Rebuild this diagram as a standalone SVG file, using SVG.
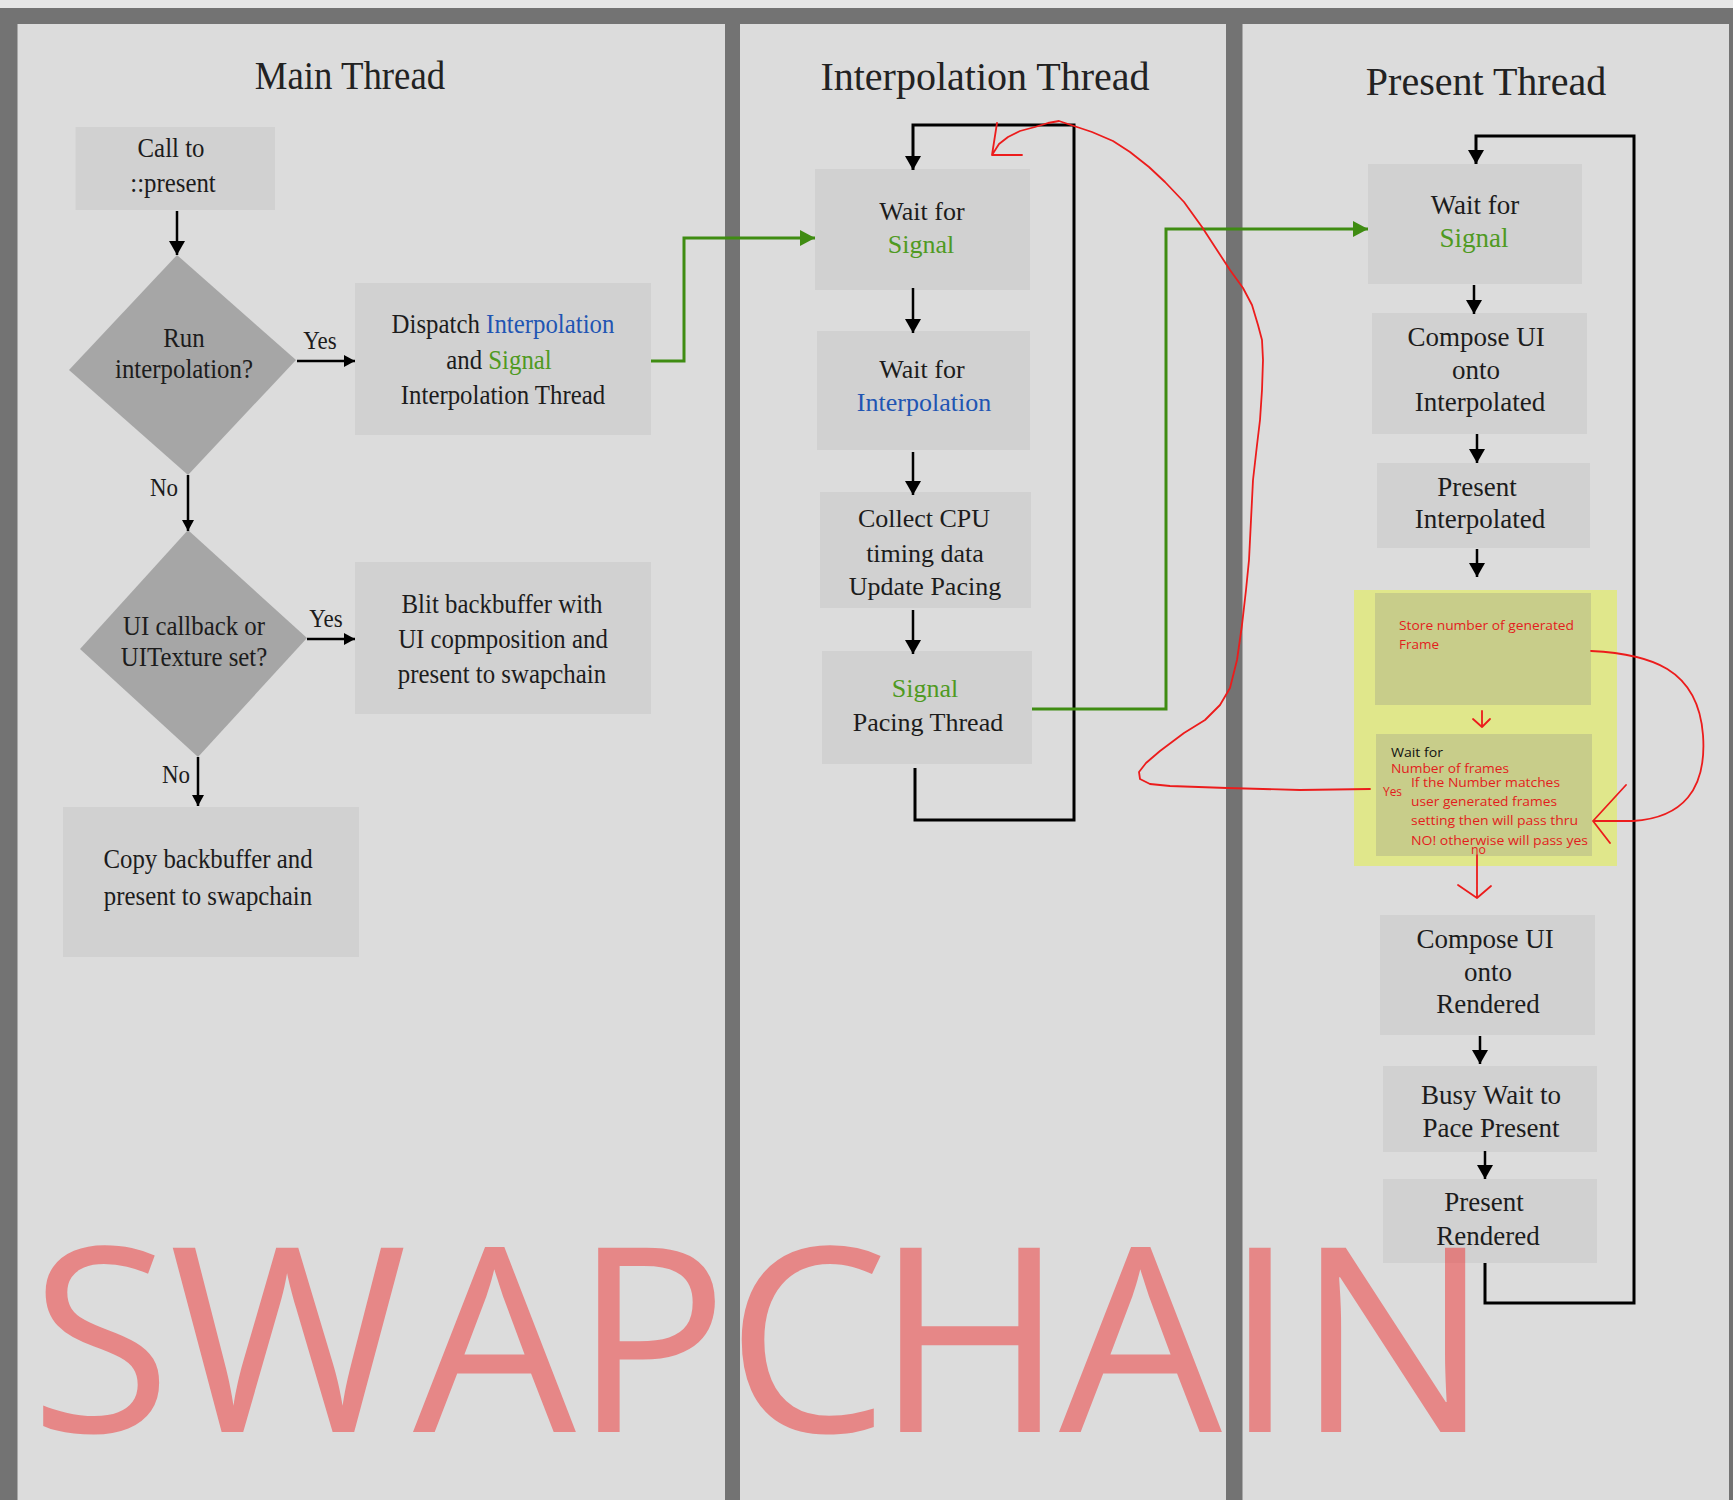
<svg xmlns="http://www.w3.org/2000/svg" width="1733" height="1500" viewBox="0 0 1733 1500">
<style>
.panel{fill:#dcdcdc}
.box{fill:#d1d1d1}
.dia{fill:#a6a6a6}
.t{font-family:"Liberation Serif","Times New Roman",serif;fill:#1c1c1c;text-anchor:middle}
.m{font-size:27px}
.lb{font-size:25px}
.i{font-size:26px}
.p{font-size:27px}
.title{font-size:40px;fill:#222}
.g{fill:#4f9a22}
.b{fill:#1f55b3}
.conn{fill:none;stroke:#000;stroke-width:2.5}
.loop{fill:none;stroke:#000;stroke-width:3}
.green{fill:none;stroke:#3f8c12;stroke-width:3}
.red{fill:none;stroke:#ec1c1c;stroke-width:1.8;stroke-linejoin:round;stroke-linecap:round}
.note{font-family:"Open Sans","Noto Sans",sans-serif;font-size:13.5px;fill:#e21d1d}
.blk{fill:#111}
.wm{font-family:"Open Sans","Noto Sans",sans-serif;font-size:258px;fill:#f03232;fill-opacity:0.5}
</style>
<defs>
<marker id="ah" viewBox="0 0 14 16" refX="14" refY="8" markerWidth="14" markerHeight="16" orient="auto" markerUnits="userSpaceOnUse"><path d="M0,0 L14,8 L0,16z" fill="#000"/></marker>
<marker id="ahs" viewBox="0 0 11 12" refX="11" refY="6" markerWidth="11" markerHeight="12" orient="auto" markerUnits="userSpaceOnUse"><path d="M0,0 L11,6 L0,12z" fill="#000"/></marker>
<marker id="ahg" viewBox="0 0 15 16" refX="15" refY="8" markerWidth="15" markerHeight="16" orient="auto" markerUnits="userSpaceOnUse"><path d="M0,0 L15,8 L0,16z" fill="#3f8c12"/></marker>
</defs>

<g id="background">
<rect x="0" y="0" width="1733" height="1500" fill="#737373"/>
<rect x="0" y="0" width="1733" height="8" fill="#e6e6e6"/>
<rect class="panel" x="17.5" y="24" width="707.5" height="1476"/>
<rect class="panel" x="740" y="24" width="486" height="1476"/>
<rect class="panel" x="1242.5" y="24" width="486.5" height="1476"/>
</g>

<g id="titles">
<text class="t title" transform="translate(350,0) scale(0.92,1)" y="89">Main Thread</text>
<text class="t title" x="985" y="90">Interpolation Thread</text>
<text class="t title" x="1486" y="95">Present Thread</text>
</g>

<g id="call-present">
<rect class="box" x="75.5" y="127" width="199.5" height="83"/>
<text class="t m" transform="translate(171,0) scale(0.92,1)" y="157">Call to</text>
<text class="t m" transform="translate(173,0) scale(0.92,1)" y="192">::present</text>
</g>
<g id="run-interpolation">
<polygon class="dia" points="177,255 296,360 188,475 69,370"/>
<text class="t m" transform="translate(184,0) scale(0.92,1)" y="347">Run</text>
<text class="t m" transform="translate(184,0) scale(0.92,1)" y="378">interpolation?</text>
</g>
<g id="dispatch">
<rect class="box" x="355" y="283" width="296" height="152"/>
<text class="t m" transform="translate(503,0) scale(0.92,1)" y="333">Dispatch <tspan class="b">Interpolation</tspan></text>
<text class="t m" transform="translate(499,0) scale(0.92,1)" y="369">and <tspan class="g">Signal</tspan></text>
<text class="t m" transform="translate(503,0) scale(0.92,1)" y="404">Interpolation Thread</text>
</g>
<g id="ui-callback">
<polygon class="dia" points="188,530 307,638 198,757 80,649"/>
<text class="t m" transform="translate(194,0) scale(0.92,1)" y="635">UI callback or</text>
<text class="t m" transform="translate(194,0) scale(0.92,1)" y="666">UITexture set?</text>
</g>
<g id="blit">
<rect class="box" x="355" y="562" width="296" height="152"/>
<text class="t m" transform="translate(502,0) scale(0.92,1)" y="613">Blit backbuffer with</text>
<text class="t m" transform="translate(503,0) scale(0.92,1)" y="648">UI copmposition and</text>
<text class="t m" transform="translate(502,0) scale(0.92,1)" y="683">present to swapchain</text>
</g>
<g id="copy">
<rect class="box" x="63" y="807" width="296" height="150"/>
<text class="t m" transform="translate(208,0) scale(0.92,1)" y="868">Copy backbuffer and</text>
<text class="t m" transform="translate(208,0) scale(0.92,1)" y="905">present to swapchain</text>
</g>

<g id="i-wait-signal">
<rect class="box" x="815" y="169" width="215" height="121"/>
<text class="t i" x="922" y="220">Wait for</text>
<text class="t i g" x="921" y="253">Signal</text>
</g>
<g id="i-wait-interp">
<rect class="box" x="817" y="331" width="213" height="119"/>
<text class="t i" x="922" y="378">Wait for</text>
<text class="t i b" x="924" y="411">Interpolation</text>
</g>
<g id="i-collect">
<rect class="box" x="820" y="492" width="211" height="116"/>
<text class="t i" x="924" y="527">Collect CPU</text>
<text class="t i" x="925" y="562">timing data</text>
<text class="t i" x="925" y="595">Update Pacing</text>
</g>
<g id="i-signal-pacing">
<rect class="box" x="822" y="651" width="210" height="113"/>
<text class="t i g" x="925" y="697">Signal</text>
<text class="t i" x="928" y="731">Pacing Thread</text>
</g>

<g id="p-wait-signal">
<rect class="box" x="1368" y="164" width="214" height="120"/>
<text class="t p" x="1475" y="214">Wait for</text>
<text class="t p g" x="1474" y="247">Signal</text>
</g>
<g id="p-compose-interp">
<rect class="box" x="1372" y="313" width="215" height="121"/>
<text class="t p" x="1476" y="346">Compose UI</text>
<text class="t p" x="1476" y="379">onto</text>
<text class="t p" x="1480" y="411">Interpolated</text>
</g>
<g id="p-present-interp">
<rect class="box" x="1377" y="463" width="213" height="85"/>
<text class="t p" x="1477" y="496">Present</text>
<text class="t p" x="1480" y="528">Interpolated</text>
</g>
<g id="p-frame-gen">
<rect x="1354" y="590" width="263" height="276" fill="#e0e78b"/>
<rect x="1375" y="593" width="216" height="112" fill="#c8cd8a"/>
<text class="note" x="1399" y="630" textLength="175" lengthAdjust="spacingAndGlyphs">Store number of generated</text>
<text class="note" x="1399" y="649" textLength="40" lengthAdjust="spacingAndGlyphs">Frame</text>
<rect x="1376" y="734" width="216" height="122" fill="#c8cd8a"/>
<text class="note blk" x="1391" y="757" textLength="52" lengthAdjust="spacingAndGlyphs">Wait for</text>
<text class="note" x="1391" y="773" textLength="118" lengthAdjust="spacingAndGlyphs">Number of frames</text>
<text class="note" x="1411" y="787" textLength="149" lengthAdjust="spacingAndGlyphs">If the Number matches</text>
<text class="note" x="1411" y="806" textLength="146" lengthAdjust="spacingAndGlyphs">user generated frames</text>
<text class="note" x="1411" y="825" textLength="167" lengthAdjust="spacingAndGlyphs">setting then will pass thru</text>
<text class="note" x="1411" y="845" textLength="177" lengthAdjust="spacingAndGlyphs">NO! otherwise will pass yes</text>
<text class="note" x="1471" y="854" textLength="15" lengthAdjust="spacingAndGlyphs">no</text>
<text class="note" x="1383" y="796" textLength="19" lengthAdjust="spacingAndGlyphs">Yes</text>
</g>
<g id="p-compose-rendered">
<rect class="box" x="1380" y="915" width="215" height="120"/>
<text class="t p" x="1485" y="948">Compose UI</text>
<text class="t p" x="1488" y="981">onto</text>
<text class="t p" x="1488" y="1013">Rendered</text>
</g>
<g id="p-busy-wait">
<rect class="box" x="1383" y="1066" width="214" height="86"/>
<text class="t p" x="1491" y="1104">Busy Wait to</text>
<text class="t p" x="1491" y="1137">Pace Present</text>
</g>
<g id="p-present-rendered">
<rect class="box" x="1383" y="1179" width="214" height="84"/>
<text class="t p" x="1484" y="1211">Present</text>
<text class="t p" x="1488" y="1245">Rendered</text>
</g>

<g id="connectors">
<path class="conn" d="M177,211 V255" marker-end="url(#ah)"/>
<path class="conn" d="M297,361 H355" marker-end="url(#ahs)"/>
<path class="conn" d="M188,475 V531" marker-end="url(#ahs)"/>
<path class="conn" d="M307,639 H355" marker-end="url(#ahs)"/>
<path class="conn" d="M198,757 V806" marker-end="url(#ahs)"/>
<text class="t lb" transform="translate(320,0) scale(0.92,1)" y="349">Yes</text>
<text class="t lb" transform="translate(164,0) scale(0.92,1)" y="496">No</text>
<text class="t lb" transform="translate(326,0) scale(0.92,1)" y="627">Yes</text>
<text class="t lb" transform="translate(176,0) scale(0.92,1)" y="783">No</text>

<path class="conn" d="M913,288 V333" marker-end="url(#ah)"/>
<path class="conn" d="M913,452 V495" marker-end="url(#ah)"/>
<path class="conn" d="M913,610 V654" marker-end="url(#ah)"/>
<path class="loop" d="M915,768 V820 H1074 V125 H913 V170" marker-end="url(#ah)"/>

<path class="conn" d="M1474,285 V314" marker-end="url(#ah)"/>
<path class="conn" d="M1477,434 V463" marker-end="url(#ah)"/>
<path class="conn" d="M1477,549 V577" marker-end="url(#ah)"/>
<path class="conn" d="M1480,1036 V1064" marker-end="url(#ah)"/>
<path class="conn" d="M1485,1151 V1179" marker-end="url(#ah)"/>
<path class="loop" d="M1485,1263 V1303 H1634 V136 H1476 V164" marker-end="url(#ah)"/>

<path class="green" d="M651,361 H684 V238 H815" marker-end="url(#ahg)"/>
<path class="green" d="M1032,709 H1166 V229 H1368" marker-end="url(#ahg)"/>
</g>

<g id="annotations">
<path class="red" d="M1482,711 V727 M1473,719 L1482,727 L1490,719"/>
<path class="red" d="M1477,855 V898 M1458,885 L1477,898 L1491,886"/>
<path class="red" d="M1591,651 C1650,654 1698,668 1703,735 C1707,790 1682,818 1633,821 L1593,821 M1626,785 L1593,821 L1610,843"/>
<path class="red" d="M1370,789 L1300,790 L1227,788 L1170,786 L1150,784 L1140,779 L1139,772 L1146,763 L1160,751 L1184,733 L1205,720 L1220,705 L1230,688 L1237,660 L1242,625 L1246,590 L1249,560 L1251,520 L1253,480 L1257,445 L1260,420 L1262,390 L1263,360 L1262,340 L1258,325 L1252,305 L1243,288 L1230,270 L1215,247 L1202,227 L1184,202 L1165,182 L1149,167 L1130,152 L1113,141 L1092,132 L1074,126 L1059,121 L1048,123 L1035,127 L1020,131 L1008,137 L999,144 L992,155 M1022,155 L992,155 L997,123"/>
</g>

<g id="watermark">
<text class="wm" x="30 169 413 573 726 875 1059 1224 1296" y="1432">SWAPCHAIN</text>
</g>
</svg>
